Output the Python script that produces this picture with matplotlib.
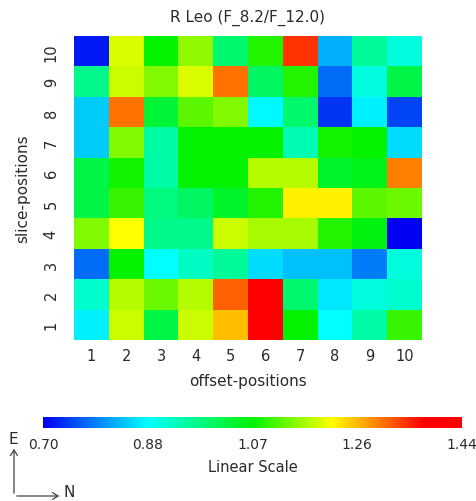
import numpy as np
import matplotlib
matplotlib.use("Agg")
import matplotlib.pyplot as plt
from matplotlib.colors import LinearSegmentedColormap, Normalize
from matplotlib.cm import ScalarMappable

# Flux ratio F_8.2/F_12.0 per slice (rows, slice 1..10) and offset (columns, offset 1..10)
offsets = [1, 2, 3, 4, 5, 6, 7, 8, 9, 10]
slices = [1, 2, 3, 4, 5, 6, 7, 8, 9, 10]
ratio_rows = [
    [0.875, 1.18, 1.02, 1.18, 1.25, 1.42, 1.07, 0.885, 0.95, 1.10],  # slice 1
    [0.92, 1.17, 1.13, 1.17, 1.31, 1.40, 0.99, 0.87, 0.91, 0.92],    # slice 2
    [0.78, 1.07, 0.885, 0.93, 0.96, 0.86, 0.84, 0.84, 0.79, 0.91],   # slice 3
    [1.14, 1.21, 0.97, 0.97, 1.18, 1.16, 1.16, 1.09, 1.06, 0.70],    # slice 4
    [1.02, 1.10, 0.98, 1.00, 1.04, 1.09, 1.22, 1.22, 1.12, 1.13],    # slice 5
    [1.02, 1.08, 0.95, 1.07, 1.07, 1.17, 1.17, 1.04, 1.05, 1.29],    # slice 6
    [0.85, 1.14, 0.95, 1.07, 1.07, 1.07, 0.94, 1.08, 1.07, 0.86],    # slice 7
    [0.85, 1.30, 1.03, 1.12, 1.14, 0.88, 0.99, 0.74, 0.875, 0.75],   # slice 8
    [0.97, 1.18, 1.14, 1.19, 1.30, 1.00, 1.09, 0.78, 0.91, 1.02],    # slice 9
    [0.72, 1.19, 1.07, 1.15, 0.99, 1.09, 1.34, 0.83, 0.96, 0.91],    # slice 10
]
vmin, vmax = 0.70, 1.44
cbar_labels = ["0.70", "0.88", "1.07", "1.26", "1.44"]

title = "R Leo (F_8.2/F_12.0)"
text_color = "#2a2a2a"

cmap = LinearSegmentedColormap.from_list(
    "rainbow_idl",
    [(0.0, (0.0, 0.0, 0.95)), (0.25, (0.0, 1.0, 1.0)), (0.5, (0.0, 0.95, 0.0)),
     (0.69, (1.0, 1.0, 0.0)), (0.91, (1.0, 0.0, 0.0)), (1.0, (1.0, 0.0, 0.0))])
norm = Normalize(vmin, vmax)

fig = plt.figure(figsize=(4.77, 5.02), dpi=100)
fig.patch.set_facecolor("white")

ax = fig.add_axes([74 / 477, 1 - 341 / 502, 348 / 477, 304 / 502])
data = np.array(ratio_rows)
xe = np.arange(len(offsets) + 1) + 0.5
ye = np.arange(len(slices) + 1) + 0.5
ax.pcolormesh(xe, ye, data, cmap=cmap, norm=norm, shading="flat")
ax.set_xlim(0.5, 10.5)
ax.set_ylim(0.5, 10.5)
for s in ax.spines.values():
    s.set_visible(False)
ax.set_xticks(offsets)
ax.set_xticklabels([str(v) for v in offsets])
ax.set_yticks(slices)
ax.set_yticklabels([str(v) for v in slices], rotation=90, va="center")
ax.tick_params(axis="x", length=0, colors=text_color, labelsize=10.5, pad=6)
ax.tick_params(axis="y", length=0, colors=text_color, labelsize=10.5, pad=11)
ax.set_xlabel("offset-positions", color=text_color, fontsize=11, labelpad=7)
ax.set_ylabel("slice-positions", color=text_color, fontsize=11, labelpad=10)
ax.set_title(title, color=text_color, fontsize=11, pad=11)

# Horizontal colour bar with end/quartile labels
cax = fig.add_axes([43 / 477, 1 - 428.5 / 502, 419 / 477, 10.5 / 502])
cb = fig.colorbar(ScalarMappable(norm=norm, cmap=cmap), cax=cax, orientation="horizontal")
cb.outline.set_visible(False)
cax.set_xticks([])
for i, lab in enumerate(cbar_labels):
    cax.text(i / (len(cbar_labels) - 1), -1.6, lab, transform=cax.transAxes,
             ha="center", va="center", fontsize=10, color=text_color)
fig.text(253 / 477, 1 - 468 / 502, "Linear Scale", ha="center", va="center",
         fontsize=10.5, color=text_color)

# Orientation compass
fig.add_artist(matplotlib.patches.FancyArrowPatch(
    (14 / 477, 1 - 497 / 502), (14 / 477, 1 - 447 / 502), transform=fig.transFigure,
    arrowstyle="->,head_length=4,head_width=2.5", color="#444444", lw=0.9))
fig.add_artist(matplotlib.patches.FancyArrowPatch(
    (14 / 477, 1 - 497 / 502), (62 / 477, 1 - 497 / 502), transform=fig.transFigure,
    arrowstyle="->,head_length=4,head_width=2.5", color="#444444", lw=0.9))
fig.text(13 / 477, 1 - 440 / 502, "E", ha="center", va="center", fontsize=11, color=text_color)
fig.text(69 / 477, 1 - 493 / 502, "N", ha="center", va="center", fontsize=11, color=text_color)

fig.savefig("out.png", dpi=100, facecolor="white")
